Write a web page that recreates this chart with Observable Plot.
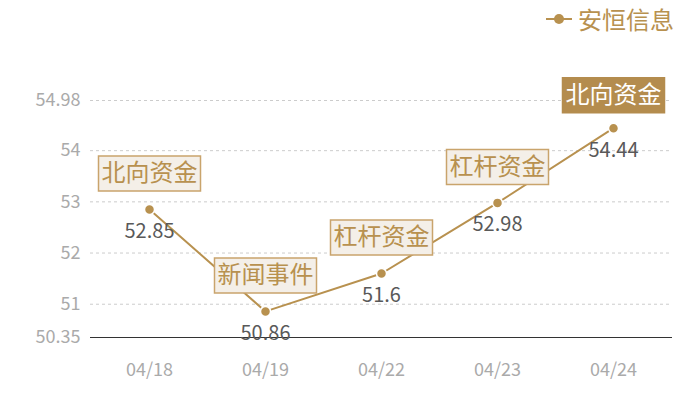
<!DOCTYPE html>
<html><head><meta charset="utf-8">
<script src="https://cdn.jsdelivr.net/npm/d3@7"></script>
<script src="https://cdn.jsdelivr.net/npm/@observablehq/plot@0.6"></script>
<style>
body{margin:0;background:#fff;font-family:"Noto Sans CJK SC","Noto Sans",sans-serif;}
#wrap{position:relative;width:700px;height:400px;}
#legend{height:40px;position:relative;}
#legend .item{position:absolute;right:26px;top:3px;display:flex;align-items:center;color:#b8914f;font-size:24px;line-height:32px;}
#legend svg{margin-right:6px;}
</style></head>
<body><div id="wrap"><div id="legend"></div><div id="chart"></div></div>
<script>
const seriesName = "安恒信息";
const dates = ["04/18","04/19","04/22","04/23","04/24"];
const values = [52.85, 50.86, 51.6, 52.98, 54.44];
const notes = ["北向资金","新闻事件","杠杆资金","杠杆资金","北向资金"];
const highlighted = [false,false,false,false,true];
const yTicks = [50.35, 51, 52, 53, 54, 54.98];
const yDomain = [50.35, 54.98];

const gold = "#b8914f";
const data = dates.map((d,i)=>({date:d, value:values[i], note:notes[i], hi:highlighted[i]}));

const boxW = 102, boxH = 35;
const boxSymbol = {draw(ctx){ ctx.rect(-boxW/2, -boxH/2, boxW, boxH); }};

document.getElementById("legend").innerHTML =
  `<div class="item"><svg width="26" height="14"><line x1="0" y1="7" x2="26" y2="7" stroke="${gold}" stroke-width="2"/><circle cx="13" cy="7" r="5" fill="${gold}"/></svg>${seriesName}</div>`;

const chart = Plot.plot({
  width: 700, height: 360,
  marginTop: 60, marginBottom: 63, marginLeft: 90, marginRight: 28,
  style: {fontFamily: '"Noto Sans CJK SC","Noto Sans",sans-serif', background: "#fff"},
  x: {type: "point", domain: dates, padding: 0.5, label: null},
  y: {domain: yDomain, label: null},
  marks: [
    Plot.ruleY(yTicks.filter(t => t !== yDomain[0]), {stroke: "#cccccc", strokeDasharray: "3,3", strokeWidth: 1}),
    Plot.ruleY([yDomain[0]], {stroke: "#333", strokeWidth: 1}),
    Plot.axisY({ticks: yTicks, tickFormat: d => String(d), tickSize: 0, tickPadding: 10, fontSize: 18, color: "#aaaaaa", label: null}),
    Plot.axisX({tickSize: 0, tickPadding: 26, fontSize: 18, color: "#aaaaaa", label: null}),
    Plot.line(data, {x: "date", y: "value", stroke: gold, strokeWidth: 2}),
    Plot.dot(data, {x: "date", y: "value", r: 5, fill: gold, stroke: "#fff", strokeWidth: 1.5}),
    Plot.text(data, {x: "date", y: "value", text: d => String(d.value), dy: 22, fontSize: 20, fill: "#595959"}),
    Plot.dot(data.filter(d => !d.hi), {x: "date", y: "value", symbol: boxSymbol, r: 10, dy: -36, fill: "#f4efe8", stroke: "#c9a46c", strokeWidth: 1.5}),
    Plot.dot(data.filter(d => d.hi), {x: "date", y: "value", symbol: boxSymbol, r: 10, dy: -33, fill: "#b48c4e", stroke: "#b48c4e"}),
    Plot.text(data.filter(d => !d.hi), {x: "date", y: "value", text: "note", dy: -36, fontSize: 24, fill: gold}),
    Plot.text(data.filter(d => d.hi), {x: "date", y: "value", text: "note", dy: -33, fontSize: 24, fill: "#fff"})
  ]
});
document.getElementById("chart").appendChild(chart);
</script></body></html>
